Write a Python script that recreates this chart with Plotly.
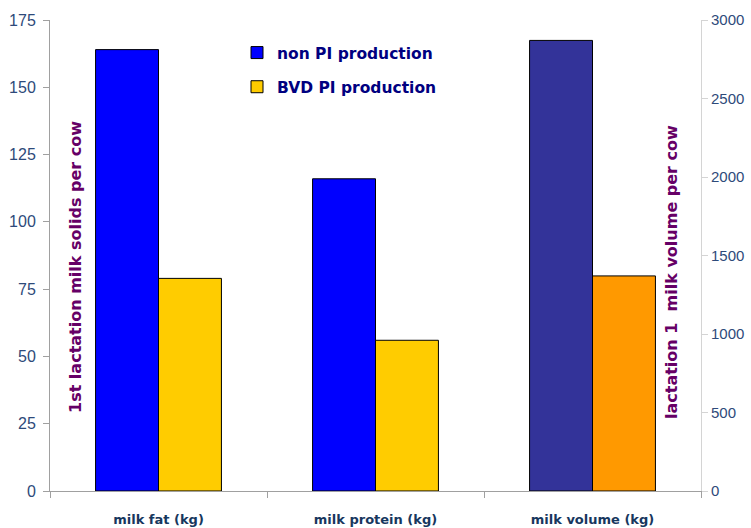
import plotly.graph_objects as go

categories = ["milk fat (kg)", "milk protein (kg)", "milk volume (kg)"]
solids_cats = ["milk fat (kg)", "milk protein (kg)"]
non_pi_solids = [164, 116]
bvd_pi_solids = [79, 56]
volume_cat = ["milk volume (kg)"]
non_pi_volume = [2870]
bvd_pi_volume = [1370]

left_ticks = [0, 25, 50, 75, 100, 125, 150, 175]
right_ticks = [0, 500, 1000, 1500, 2000, 2500, 3000]

W = 0.29
tickcol = "#2E4A7A"
BOLD = "DejaVu Sans, Verdana, sans-serif"
fig = go.Figure()
fig.add_trace(go.Bar(x=solids_cats, y=non_pi_solids, name="non PI production", legendgroup="a",
                     marker=dict(color="#0000FF", line=dict(color="black", width=1)),
                     width=W, offset=-W, yaxis="y"))
fig.add_trace(go.Bar(x=solids_cats, y=bvd_pi_solids, name="BVD PI production", legendgroup="b",
                     marker=dict(color="#FFCC00", line=dict(color="black", width=1)),
                     width=W, offset=0, yaxis="y"))
fig.add_trace(go.Bar(x=volume_cat, y=non_pi_volume, name="non PI volume", showlegend=False,
                     marker=dict(color="#333399", line=dict(color="black", width=1)),
                     width=W, offset=-W, yaxis="y2"))
fig.add_trace(go.Bar(x=volume_cat, y=bvd_pi_volume, name="BVD PI volume", showlegend=False,
                     marker=dict(color="#FF9900", line=dict(color="black", width=1)),
                     width=W, offset=0, yaxis="y2"))

fig.update_layout(
    width=751, height=528,
    margin=dict(l=50, r=50, t=20, b=37, autoexpand=False),
    paper_bgcolor="white", plot_bgcolor="white",
    font=dict(family="Liberation Sans, Arial, sans-serif"),
    xaxis=dict(categoryorder="array", categoryarray=categories, range=[-0.5, 2.5],
               showline=True, linecolor="#A0A0A0", linewidth=1, automargin=False,
               ticks="outside", tickson="boundaries", ticklen=6, tickcolor="#A0A0A0",
               tickfont=dict(size=13, color="#17375E", family=BOLD, weight="bold"),
               ticklabelstandoff=16, showgrid=False, zeroline=False),
    yaxis=dict(range=[0, 175], tickvals=left_ticks, showline=True, linecolor="#A0A0A0",
               ticks="outside", ticklen=6, tickcolor="#A0A0A0", ticklabelstandoff=4,
               automargin=False,
               tickfont=dict(size=16, color=tickcol), showgrid=False, zeroline=False),
    yaxis2=dict(range=[0, 3000], tickvals=right_ticks, overlaying="y", side="right",
                showline=True, linecolor="#D4D4D4", ticks="outside", ticklen=6,
                tickcolor="#D4D4D4", tickfont=dict(size=15, color=tickcol), automargin=False,
                showgrid=False, zeroline=False),
    showlegend=True,
    legend=dict(x=(237 - 50) / 651, y=(491 - 36) / 471, xanchor="left", yanchor="top",
                bgcolor="rgba(0,0,0,0)",
                font=dict(size=15.5, color="#000080", family=BOLD, weight="bold"), tracegroupgap=11,
                itemwidth=30),
    barmode="overlay",
    annotations=[
        dict(text="1st lactation milk solids per cow", x=(75 - 50) / 651, y=(491 - 267) / 471,
             xref="paper", yref="paper", xanchor="center", yanchor="middle",
             showarrow=False, textangle=-90,
             font=dict(size=16, color="#660066", family=BOLD, weight="bold")),
        dict(text="lactation 1  milk volume per cow", x=(671 - 50) / 651, y=(491 - 272) / 471,
             xref="paper", yref="paper", xanchor="center", yanchor="middle",
             showarrow=False, textangle=-90,
             font=dict(size=16, color="#660066", family=BOLD, weight="bold")),
    ],
)
fig.write_html("out.html")
